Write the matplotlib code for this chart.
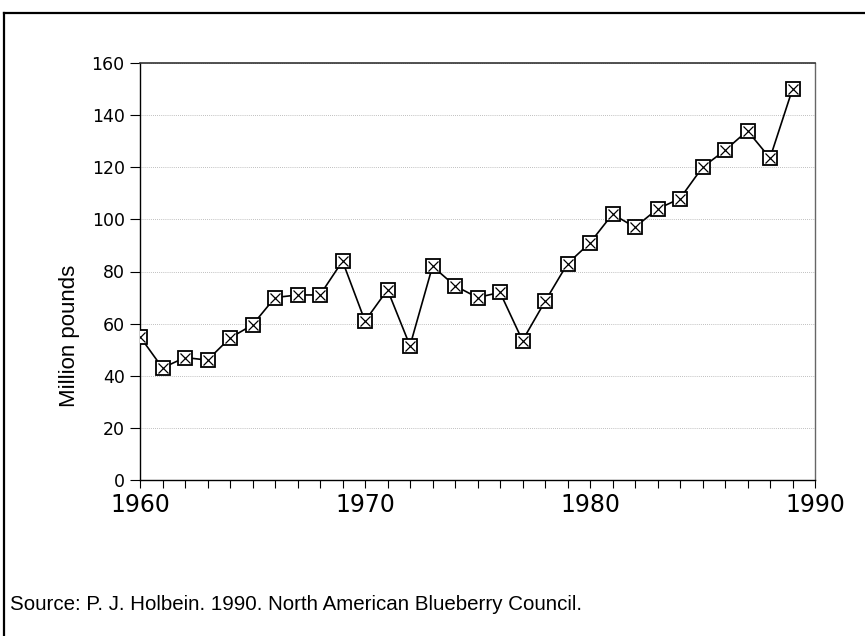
import matplotlib
matplotlib.use("Agg")
import matplotlib.pyplot as plt
from matplotlib.lines import Line2D
from matplotlib.ticker import MultipleLocator

years = list(range(1960, 1990))
pounds = [55, 43, 47, 46, 54.5, 59.5, 70, 71, 71, 84,
          61, 73, 51.5, 82, 74.5, 70, 72, 53.5, 68.5, 83,
          91, 102, 97, 104, 108, 120, 126.5, 134, 123.5, 150]
y_ticks = [0, 20, 40, 60, 80, 100, 120, 140, 160]
x_ticks = [1960, 1970, 1980, 1990]
source = "Source: P. J. Holbein. 1990. North American Blueberry Council."

fig = plt.figure(figsize=(8.65, 6.36), dpi=100)
ax = fig.add_axes([140 / 865, 1 - 480 / 636, 675 / 865, 417 / 636])

ax.plot(years, pounds, color="black", lw=1.2, zorder=3)
ax.plot(years, pounds, ls="none", marker="s", ms=10, mfc="white",
        mec="black", mew=1.3, zorder=4)
ax.plot(years, pounds, ls="none", marker="x", ms=7.5, mec="black",
        mew=0.9, zorder=5)

ax.set_xlim(1960, 1990)
ax.set_ylim(0, 160)
ax.set_xticks(x_ticks)
ax.xaxis.set_minor_locator(MultipleLocator(1))
ax.set_yticks(y_ticks)
ax.tick_params(axis="x", which="both", direction="out", length=6, width=0.8,
               labelsize=17, pad=3)
ax.tick_params(axis="y", direction="out", length=7, width=0.8,
               labelsize=12.5, pad=4)
ax.yaxis.grid(True, color="#aaaaaa", linestyle=(0, (1, 1.5)), linewidth=0.6)
ax.set_axisbelow(True)

for s in ["left", "bottom"]:
    ax.spines[s].set_color("black")
    ax.spines[s].set_linewidth(1.0)
ax.spines["top"].set_color("#333333")
ax.spines["top"].set_linewidth(1.2)
ax.spines["right"].set_color("#666666")
ax.spines["right"].set_linewidth(1.0)

# the label sits lower than the axis centre in the original
fig.text(70 / 865, 1 - 336 / 636, "Million pounds", family="Liberation Sans",
         fontsize=16, rotation=90, va="center", ha="center")

fig.text(10 / 865, 1 - 604 / 636, source, family="Liberation Sans",
         fontsize=14.75, va="center", ha="left")

# scanned page frame (left and top edges)
fig.add_artist(Line2D([4 / 865, 4 / 865], [0, 1 - 13 / 636],
                      transform=fig.transFigure, color="black", lw=1.6))
fig.add_artist(Line2D([4 / 865, 1], [1 - 13 / 636, 1 - 13 / 636],
                      transform=fig.transFigure, color="black", lw=1.6))

fig.savefig("out.png", dpi=100)
